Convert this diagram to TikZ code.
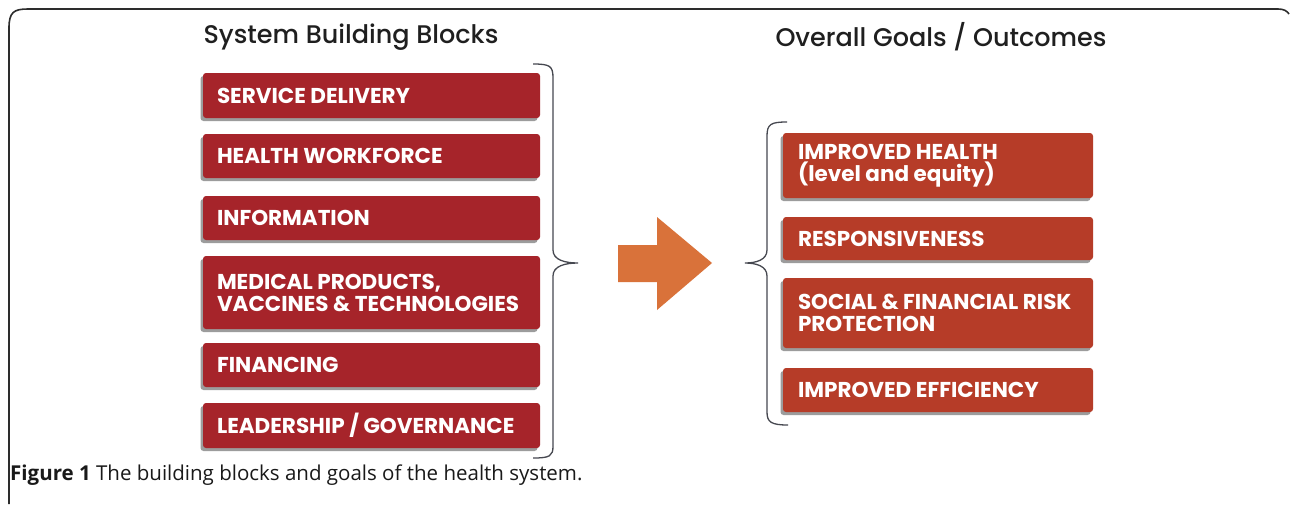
\documentclass[tikz,border=0pt]{standalone}
\usepackage{fontspec}
\newfontfamily\gfont{Poppins}
\newfontfamily\tfont{Poppins Medium}
\newfontfamily\capfont{Open Sans}
\usetikzlibrary{shadows}
\definecolor{blockred}{RGB}{166,36,42}
\definecolor{goalred}{RGB}{182,60,40}
\definecolor{arroworange}{RGB}{217,114,58}
\definecolor{framegray}{RGB}{45,45,45}
\definecolor{bracegray}{RGB}{70,72,80}
\begin{document}
\begin{tikzpicture}[x=1pt,y=-1pt,
  boxbase/.style={rounded corners=3pt,
    drop shadow={shadow xshift=-2.5pt, shadow yshift=-3pt, fill=black!70, opacity=.55}},
  lbox/.style={boxbase, fill=blockred, minimum width=337pt},
  rbox/.style={boxbase, fill=goalred, minimum width=310pt},
  boxtext/.style={anchor=west, inner sep=0pt, text=white, align=left,
    font=\gfont\bfseries\fontsize{21.5}{22}\selectfont},
  title/.style={font=\tfont\fontsize{25.5}{28}\selectfont, text=black!88},
  bracestyle/.style={draw=bracegray, line width=1.3pt},
]
\useasboundingbox (0,0) rectangle (1290,504);
\fill[white] (0,0) rectangle (1290,504);

% outer frame
\draw[framegray, line width=1.6pt] (9,504) -- (9,28) .. controls (9,12) and (14,9) .. (28,9) -- (1278,9) .. controls (1284,9) and (1287,11) .. (1289,14);

% titles
\node[title] (lt) at (351,37) {System Building Blocks};
\node[title] (rt) at (941,37) {Overall Goals / Outcomes};

% building blocks
\node[lbox, minimum height=45pt] (b1) at (371.5,95.5) {};
\node[lbox, minimum height=44pt] (b2) at (371.5,156) {};
\node[lbox, minimum height=44pt] (b3) at (371.5,218) {};
\node[lbox, minimum height=73pt] (b4) at (371.5,292.5) {};
\node[lbox, minimum height=44pt] (b5) at (371.5,365) {};
\node[lbox, minimum height=45pt] (b6) at (371.5,425.5) {};
\node[boxtext] (b1t) at ([xshift=14pt]b1.west) {SERVICE DELIVERY};
\node[boxtext] (b2t) at ([xshift=14pt]b2.west) {HEALTH WORKFORCE};
\node[boxtext] (b3t) at ([xshift=14pt]b3.west) {INFORMATION};
\node[boxtext] (b4t) at ([xshift=14pt]b4.west) {MEDICAL PRODUCTS,\\VACCINES \& TECHNOLOGIES};
\node[boxtext] (b5t) at ([xshift=14pt]b5.west) {FINANCING};
\node[boxtext] (b6t) at ([xshift=14pt]b6.west) {LEADERSHIP / GOVERNANCE};

% goals
\node[rbox, minimum height=65pt] (g1) at (938,165.5) {};
\node[rbox, minimum height=43pt] (g2) at (938,238.5) {};
\node[rbox, minimum height=70pt] (g3) at (938,313) {};
\node[rbox, minimum height=44pt] (g4) at (938,390) {};
\node[boxtext] (g1t) at ([xshift=15pt]g1.west) {IMPROVED HEALTH\\(level and equity)};
\node[boxtext] (g2t) at ([xshift=15pt]g2.west) {RESPONSIVENESS};
\node[boxtext] (g3t) at ([xshift=15pt]g3.west) {SOCIAL \& FINANCIAL RISK\\PROTECTION};
\node[boxtext] (g4t) at ([xshift=15pt]g4.west) {IMPROVED EFFICIENCY};

% right-facing brace after the building blocks
\coordinate (lbt) at (533,64);
\coordinate (lbm) at (578,263);
\coordinate (lbb) at (533,458);
\draw[bracestyle] (lbt) .. controls (550,64) and (553,66) .. (553,78) -- (553,250)
  .. controls (553,260) and (565,263) .. (lbm)
  .. controls (565,263) and (553,266) .. (553,276) -- (553,446)
  .. controls (553,456) and (550,458) .. (lbb);

% left-facing brace before the goals
\coordinate (rbt) at (787,122);
\coordinate (rbm) at (745,263);
\coordinate (rbb) at (788,425);
\draw[bracestyle] (rbt) .. controls (771,122) and (767,124) .. (767,136) -- (767,250)
  .. controls (767,260) and (756,263) .. (rbm)
  .. controls (756,263) and (767,266) .. (767,276) -- (767,412)
  .. controls (767,422) and (771,425) .. (rbb);

% block arrow
\fill[arroworange] (618,245) -- (657,245) -- (657,217) -- (712,263) -- (657,310) -- (657,282) -- (618,282) -- cycle;

% caption
\node[anchor=base west, inner sep=0pt, font=\capfont\fontsize{20.5}{24}\selectfont, text=black!90] (cap) at (10,480)
  {\textbf{Figure 1} The building blocks and goals of the health system.};
\end{tikzpicture}
\end{document}
